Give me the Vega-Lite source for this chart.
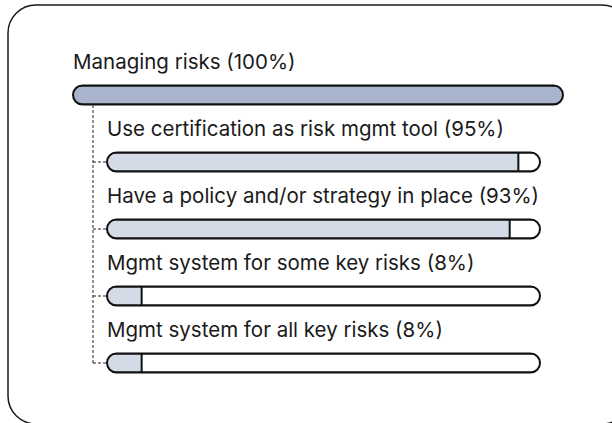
{
  "$schema": "https://vega.github.io/schema/vega-lite/v6.json",
  "width": 622,
  "height": 419,
  "autosize": {"type": "none"},
  "padding": {"left": 8, "top": 5, "right": -18, "bottom": -1},
  "background": "white",
  "config": {
    "view": {"stroke": "#1a1a1a", "strokeWidth": 1.5, "cornerRadius": 28, "fill": "white"}
  },
  "data": {
    "values": [
      {"label": "Managing risks (100%)", "value": 100, "level": "main", "rank": 0},
      {"label": "Use certification as risk mgmt tool (95%)", "value": 95, "level": "sub", "rank": 1},
      {"label": "Have a policy and/or strategy in place (93%)", "value": 93, "level": "sub", "rank": 2},
      {"label": "Mgmt system for some key risks (8%)", "value": 8, "level": "sub", "rank": 3},
      {"label": "Mgmt system for all key risks (8%)", "value": 8, "level": "sub", "rank": 4}
    ]
  },
  "transform": [
    {"joinaggregate": [{"op": "max", "field": "value", "as": "total"}, {"op": "max", "field": "rank", "as": "lastRank"}]}
  ],
  "encoding": {
    "y": {"field": "rank", "type": "quantitative", "scale": {"domain": [0, 4], "range": [85, 363], "nice": false, "zero": false}, "axis": null}
  },
  "layer": [
    {
      "transform": [{"filter": "datum.level === 'main'"}],
      "layer": [
        {
          "mark": {"type": "bar", "orient": "horizontal", "height": 19, "cornerRadius": 9.5, "fill": "#a9b5cd", "stroke": "#111111", "strokeWidth": 2},
          "encoding": {
            "x": {"field": "value", "type": "quantitative", "scale": {"domain": [0, 100], "range": [65, 555], "nice": false, "zero": false}, "axis": null}
          }
        },
        {
          "mark": {"type": "text", "align": "left", "baseline": "middle", "dy": -32, "fontSize": 20.5, "font": "Inter", "color": "#1a1a1a"},
          "encoding": {
            "x": {"datum": 0, "type": "quantitative"},
            "text": {"field": "label", "type": "nominal"}
          }
        }
      ]
    },
    {
      "layer": [
        {
          "transform": [{"filter": "datum.level === 'main'"}],
          "mark": {"type": "rule", "strokeDash": [3, 2], "strokeWidth": 1, "color": "#222222", "xOffset": -14, "yOffset": 10},
          "encoding": {
            "x": {"datum": 0, "type": "quantitative", "scale": {"domain": [0, 100], "range": [99, 532], "nice": false, "zero": false}, "axis": null},
            "y2": {"field": "lastRank"}
          }
        },
        {
          "transform": [{"filter": "datum.level === 'sub'"}],
          "mark": {"type": "rule", "strokeDash": [3, 2], "strokeWidth": 1, "color": "#222222", "xOffset": -14, "x2Offset": -1},
          "encoding": {
            "x": {"datum": 0, "type": "quantitative"},
            "x2": {"datum": 0}
          }
        },
        {
          "transform": [{"filter": "datum.level === 'sub'"}],
          "mark": {"type": "bar", "orient": "horizontal", "height": 19, "cornerRadiusTopLeft": 9.5, "cornerRadiusBottomLeft": 9.5, "fill": "#d5dbe6"},
          "encoding": {
            "x": {"field": "value", "type": "quantitative"}
          }
        },
        {
          "transform": [{"filter": "datum.level === 'sub'"}],
          "mark": {"type": "bar", "orient": "horizontal", "height": 19, "cornerRadius": 9.5, "fill": "white", "fillOpacity": 0, "stroke": "#111111", "strokeWidth": 2},
          "encoding": {
            "x": {"field": "total", "type": "quantitative"}
          }
        },
        {
          "transform": [{"filter": "datum.level === 'sub'"}],
          "mark": {"type": "rule", "strokeWidth": 2, "color": "#111111", "yOffset": -9.5, "y2Offset": 9.5},
          "encoding": {
            "x": {"field": "value", "type": "quantitative"},
            "y2": {"field": "rank"}
          }
        },
        {
          "transform": [{"filter": "datum.level === 'sub'"}],
          "mark": {"type": "text", "align": "left", "baseline": "middle", "dy": -32, "fontSize": 20.5, "font": "Inter", "color": "#1a1a1a"},
          "encoding": {
            "x": {"datum": 0, "type": "quantitative"},
            "text": {"field": "label", "type": "nominal"}
          }
        }
      ]
    }
  ],
  "resolve": {"scale": {"x": "independent"}}
}
